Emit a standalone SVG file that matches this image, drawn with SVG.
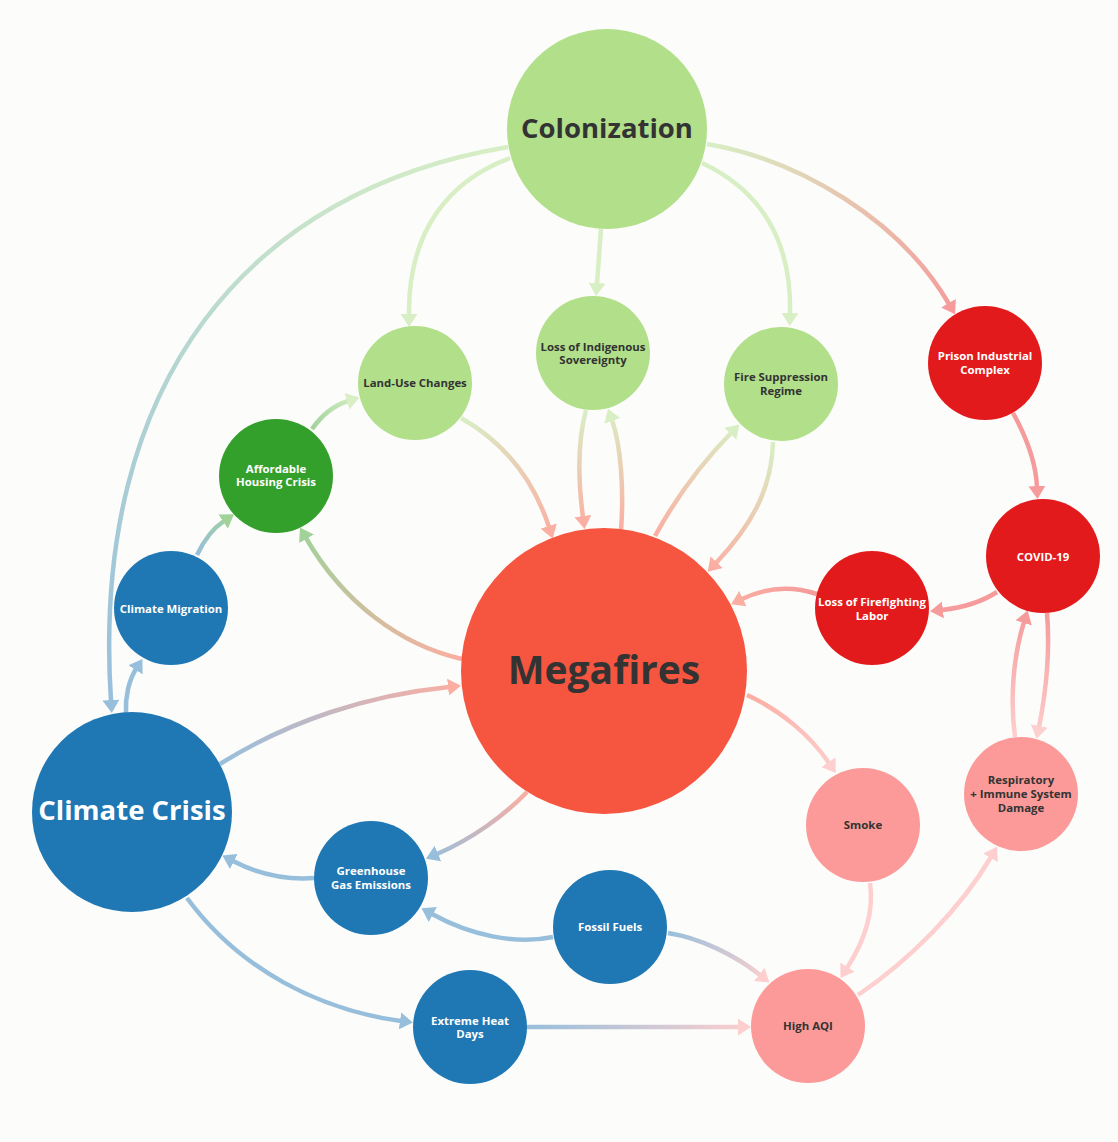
<svg xmlns="http://www.w3.org/2000/svg" width="1118" height="1142" viewBox="0 0 1118 1142">
<style>
.e{fill:none;stroke-width:4.5;stroke-linecap:butt}
.t{font-family:"Open Sans","Liberation Sans",sans-serif;font-weight:700;text-anchor:middle}
.s{font-size:11.4px}
.dk{fill:#333333}
.wh{fill:#ffffff}
</style>
<defs>
<marker id="a-lg" viewBox="-1 -8.5 13 17" refX="0" refY="0" markerWidth="13" markerHeight="17" markerUnits="userSpaceOnUse" orient="auto"><path d="M-1,-8.5 L12,0 L-1,8.5 z" fill="#d8efc5"/></marker>
<marker id="a-dg" viewBox="-1 -8.5 13 17" refX="0" refY="0" markerWidth="13" markerHeight="17" markerUnits="userSpaceOnUse" orient="auto"><path d="M-1,-8.5 L12,0 L-1,8.5 z" fill="#a0d29a"/></marker>
<marker id="a-bl" viewBox="-1 -8.5 13 17" refX="0" refY="0" markerWidth="13" markerHeight="17" markerUnits="userSpaceOnUse" orient="auto"><path d="M-1,-8.5 L12,0 L-1,8.5 z" fill="#97bfdc"/></marker>
<marker id="a-rd" viewBox="-1 -8.5 13 17" refX="0" refY="0" markerWidth="13" markerHeight="17" markerUnits="userSpaceOnUse" orient="auto"><path d="M-1,-8.5 L12,0 L-1,8.5 z" fill="#f59b9b"/></marker>
<marker id="a-pk" viewBox="-1 -8.5 13 17" refX="0" refY="0" markerWidth="13" markerHeight="17" markerUnits="userSpaceOnUse" orient="auto"><path d="M-1,-8.5 L12,0 L-1,8.5 z" fill="#fdcfce"/></marker>
<marker id="a-or" viewBox="-1 -8.5 13 17" refX="0" refY="0" markerWidth="13" markerHeight="17" markerUnits="userSpaceOnUse" orient="auto"><path d="M-1,-8.5 L12,0 L-1,8.5 z" fill="#fbaea2"/></marker>

<linearGradient id="g4" gradientUnits="userSpaceOnUse" x1="707" y1="144" x2="955" y2="314"><stop offset="0" stop-color="#d8efc5"/><stop offset="1" stop-color="#f59b9b"/></linearGradient>
<linearGradient id="g5" gradientUnits="userSpaceOnUse" x1="508" y1="147" x2="112" y2="713"><stop offset="0" stop-color="#d8efc5"/><stop offset="1" stop-color="#97bfdc"/></linearGradient>
<linearGradient id="g6" gradientUnits="userSpaceOnUse" x1="461" y1="418" x2="553" y2="538"><stop offset="0" stop-color="#d8efc5"/><stop offset="1" stop-color="#fbaea2"/></linearGradient>
<linearGradient id="g7" gradientUnits="userSpaceOnUse" x1="586" y1="410" x2="585" y2="529"><stop offset="0" stop-color="#d8efc5"/><stop offset="1" stop-color="#fbaea2"/></linearGradient>
<linearGradient id="g8" gradientUnits="userSpaceOnUse" x1="621" y1="531" x2="608" y2="409"><stop offset="0" stop-color="#fbaea2"/><stop offset="1" stop-color="#d8efc5"/></linearGradient>
<linearGradient id="g9" gradientUnits="userSpaceOnUse" x1="655" y1="536" x2="739" y2="424"><stop offset="0" stop-color="#fbaea2"/><stop offset="1" stop-color="#d8efc5"/></linearGradient>
<linearGradient id="g10" gradientUnits="userSpaceOnUse" x1="773" y1="442" x2="708" y2="572"><stop offset="0" stop-color="#d8efc5"/><stop offset="1" stop-color="#fbaea2"/></linearGradient>
<linearGradient id="g11" gradientUnits="userSpaceOnUse" x1="462" y1="659" x2="300" y2="528"><stop offset="0" stop-color="#fbaea2"/><stop offset="1" stop-color="#a0d29a"/></linearGradient>
<linearGradient id="g12" gradientUnits="userSpaceOnUse" x1="312" y1="429" x2="359" y2="398"><stop offset="0" stop-color="#a0d29a"/><stop offset="1" stop-color="#d8efc5"/></linearGradient>
<linearGradient id="g13" gradientUnits="userSpaceOnUse" x1="197" y1="555" x2="234" y2="514"><stop offset="0" stop-color="#97bfdc"/><stop offset="1" stop-color="#a0d29a"/></linearGradient>
<linearGradient id="g15" gradientUnits="userSpaceOnUse" x1="220" y1="764" x2="461" y2="686"><stop offset="0" stop-color="#97bfdc"/><stop offset="1" stop-color="#fbaea2"/></linearGradient>
<linearGradient id="g16" gradientUnits="userSpaceOnUse" x1="527" y1="792" x2="426" y2="859"><stop offset="0" stop-color="#fbaea2"/><stop offset="1" stop-color="#97bfdc"/></linearGradient>
<linearGradient id="g19" gradientUnits="userSpaceOnUse" x1="668" y1="933" x2="769" y2="983"><stop offset="0" stop-color="#97bfdc"/><stop offset="1" stop-color="#fdcfce"/></linearGradient>
<linearGradient id="g21" gradientUnits="userSpaceOnUse" x1="527" y1="1027" x2="751" y2="1027"><stop offset="0" stop-color="#97bfdc"/><stop offset="1" stop-color="#fdcfce"/></linearGradient>
<linearGradient id="g24" gradientUnits="userSpaceOnUse" x1="747" y1="695" x2="836" y2="773"><stop offset="0" stop-color="#fbaea2"/><stop offset="1" stop-color="#fdcfce"/></linearGradient>
<linearGradient id="g27" gradientUnits="userSpaceOnUse" x1="817" y1="594" x2="731" y2="604"><stop offset="0" stop-color="#f59b9b"/><stop offset="1" stop-color="#fbaea2"/></linearGradient>
<linearGradient id="g28" gradientUnits="userSpaceOnUse" x1="1047" y1="613" x2="1037" y2="739"><stop offset="0" stop-color="#f59b9b"/><stop offset="1" stop-color="#fdcfce"/></linearGradient>
<linearGradient id="g29" gradientUnits="userSpaceOnUse" x1="1015" y1="737" x2="1028" y2="611"><stop offset="0" stop-color="#fdcfce"/><stop offset="1" stop-color="#f59b9b"/></linearGradient>
</defs>
<rect x="0" y="0" width="1118" height="1142" fill="#fcfcfa"/>

<g id="connectors">
<path class="e" d="M510,158 C450,180 408,230 409,315" stroke="#d8efc5" marker-end="url(#a-lg)"/>
<path class="e" d="M601,229 L597,284" stroke="#d8efc5" marker-end="url(#a-lg)"/>
<path class="e" d="M702,163 C760,190 792,240 790,314" stroke="#d8efc5" marker-end="url(#a-lg)"/>
<path class="e" d="M707,144 C800,160 900,220 949,304" stroke="url(#g4)" marker-end="url(#a-rd)"/>
<path class="e" d="M508,147 C250,190 90,380 111,701" stroke="url(#g5)" marker-end="url(#a-bl)"/>
<path class="e" d="M461,418 C500,440 532,475 549,527" stroke="url(#g6)" marker-end="url(#a-or)"/>
<path class="e" d="M586,410 C578,440 578,480 583,517" stroke="url(#g7)" marker-end="url(#a-or)"/>
<path class="e" d="M621,531 C624,490 621,446 612,420" stroke="url(#g8)" marker-end="url(#a-lg)"/>
<path class="e" d="M655,536 C672,505 695,470 731,433" stroke="url(#g9)" marker-end="url(#a-lg)"/>
<path class="e" d="M773,442 C772,490 750,527 716,563" stroke="url(#g10)" marker-end="url(#a-or)"/>
<path class="e" d="M462,659 C400,645 343,602 306,538" stroke="url(#g11)" marker-end="url(#a-dg)"/>
<path class="e" d="M312,429 C322,415 335,405 348,401" stroke="url(#g12)" marker-end="url(#a-lg)"/>
<path class="e" d="M197,555 C205,538 215,527 224,521" stroke="url(#g13)" marker-end="url(#a-dg)"/>
<path class="e" d="M126,713 C125,697 129,680 136,669" stroke="#97bfdc" marker-end="url(#a-bl)"/>
<path class="e" d="M220,764 C290,720 370,695 449,687" stroke="url(#g15)" marker-end="url(#a-or)"/>
<path class="e" d="M527,792 C505,815 472,839 437,854" stroke="url(#g16)" marker-end="url(#a-bl)"/>
<path class="e" d="M314,878 C285,880 258,874 233,861" stroke="#97bfdc" marker-end="url(#a-bl)"/>
<path class="e" d="M553,937 C515,945 470,935 432,914" stroke="#97bfdc" marker-end="url(#a-bl)"/>
<path class="e" d="M668,933 C700,938 735,955 760,975" stroke="url(#g19)" marker-end="url(#a-pk)"/>
<path class="e" d="M187,898 C240,970 320,1010 401,1021" stroke="#97bfdc" marker-end="url(#a-bl)"/>
<path class="e" d="M527,1027 L739,1027" stroke="url(#g21)" marker-end="url(#a-pk)"/>
<path class="e" d="M870,883 C874,910 865,940 847,968" stroke="#fdcfce" marker-end="url(#a-pk)"/>
<path class="e" d="M858,995 C910,960 961,908 991,857" stroke="#fdcfce" marker-end="url(#a-pk)"/>
<path class="e" d="M747,695 C780,710 810,735 829,763" stroke="url(#g24)" marker-end="url(#a-pk)"/>
<path class="e" d="M1013,413 C1028,440 1036,465 1037,487" stroke="#f59b9b" marker-end="url(#a-rd)"/>
<path class="e" d="M997,592 C980,603 960,608 942,610" stroke="#f59b9b" marker-end="url(#a-rd)"/>
<path class="e" d="M817,594 C790,585 765,588 742,599" stroke="url(#g27)" marker-end="url(#a-or)"/>
<path class="e" d="M1047,613 C1050,650 1046,692 1039,727" stroke="url(#g28)" marker-end="url(#a-pk)"/>
<path class="e" d="M1015,737 C1010,700 1013,657 1024,622" stroke="url(#g29)" marker-end="url(#a-rd)"/>
</g>

<g id="colonization"><circle cx="607" cy="129" r="100" fill="#b2df8a"/><text class="t dk" x="607" y="138" font-size="27.5">Colonization</text></g>
<g id="megafires"><circle cx="604" cy="671" r="143" fill="#f6553f"/><text class="t dk" x="604" y="684" font-size="39">Megafires</text></g>
<g id="climate-crisis"><circle cx="132" cy="812" r="100" fill="#1f78b4"/><text class="t wh" x="132" y="820" font-size="27.5">Climate Crisis</text></g>
<g id="land-use"><circle cx="415" cy="383" r="57" fill="#b2df8a"/><text class="t s dk" x="415" y="387">Land-Use Changes</text></g>
<g id="indigenous"><circle cx="593" cy="353" r="57" fill="#b2df8a"/><text class="t s dk" x="593" y="350.5">Loss of Indigenous</text><text class="t s dk" x="593" y="364">Sovereignty</text></g>
<g id="fire-suppression"><circle cx="781" cy="384" r="57" fill="#b2df8a"/><text class="t s dk" x="781" y="381">Fire Suppression</text><text class="t s dk" x="781" y="394.5">Regime</text></g>
<g id="prison"><circle cx="985" cy="363" r="57" fill="#e31a1c"/><text class="t s wh" x="985" y="360">Prison Industrial</text><text class="t s wh" x="985" y="373.5">Complex</text></g>
<g id="covid"><circle cx="1043" cy="556" r="57" fill="#e31a1c"/><text class="t s wh" x="1043" y="561">COVID-19</text></g>
<g id="firefighting"><circle cx="872" cy="608" r="57" fill="#e31a1c"/><text class="t s wh" x="872" y="606">Loss of Firefighting</text><text class="t s wh" x="872" y="619.5">Labor</text></g>
<g id="housing"><circle cx="276" cy="476" r="57" fill="#33a02c"/><text class="t s wh" x="276" y="472.5">Affordable</text><text class="t s wh" x="276" y="486">Housing Crisis</text></g>
<g id="migration"><circle cx="171" cy="608" r="57" fill="#1f78b4"/><text class="t s wh" x="171" y="613">Climate Migration</text></g>
<g id="greenhouse"><circle cx="371" cy="878" r="57" fill="#1f78b4"/><text class="t s wh" x="371" y="875">Greenhouse</text><text class="t s wh" x="371" y="889">Gas Emissions</text></g>
<g id="fossil"><circle cx="610" cy="927" r="57" fill="#1f78b4"/><text class="t s wh" x="610" y="931">Fossil Fuels</text></g>
<g id="heat"><circle cx="470" cy="1027" r="57" fill="#1f78b4"/><text class="t s wh" x="470" y="1024.5">Extreme Heat</text><text class="t s wh" x="470" y="1038">Days</text></g>
<g id="aqi"><circle cx="808" cy="1026" r="57" fill="#fb9a99"/><text class="t s dk" x="808" y="1030">High AQI</text></g>
<g id="smoke"><circle cx="863" cy="825" r="57" fill="#fb9a99"/><text class="t s dk" x="863" y="829">Smoke</text></g>
<g id="respiratory"><circle cx="1021" cy="794" r="57" fill="#fb9a99"/><text class="t s dk" x="1021" y="783.5">Respiratory</text><text class="t s dk" x="1021" y="797.5">+ Immune System</text><text class="t s dk" x="1021" y="811.5">Damage</text></g>
</svg>
